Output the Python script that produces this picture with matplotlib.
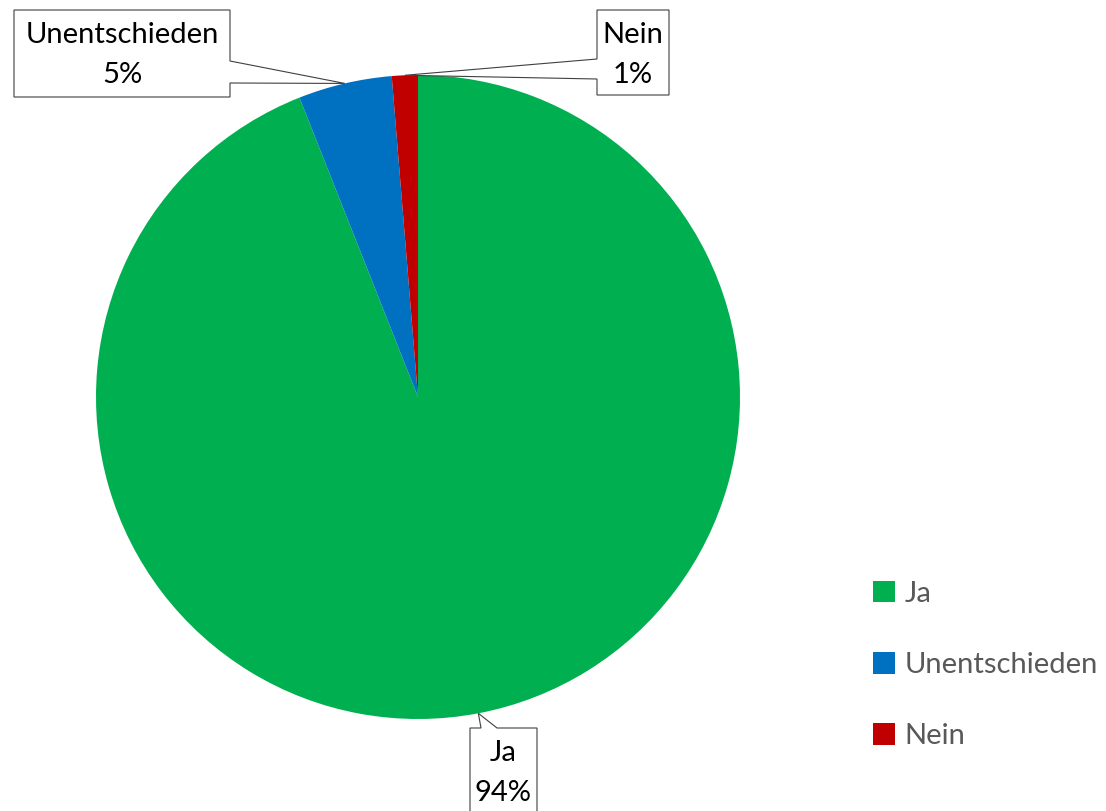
import matplotlib.pyplot as plt
import numpy as np
from matplotlib.patches import Polygon, Patch

categories = ["Ja", "Unentschieden", "Nein"]
values = [94.0, 4.7, 1.3]
colors = ["#00B050", "#0070C0", "#C00000"]

plt.rcParams['font.family'] = ['Lato', 'DejaVu Sans']
FS = 21

W, H = 1106, 811
fig = plt.figure(figsize=(W / 100, H / 100), dpi=100)
ax = fig.add_axes([0, 0, 1, 1])

cx, cy, r = 418, H - 397, 322
wedges, _ = ax.pie(values, colors=colors, startangle=90, counterclock=False,
                   center=(cx, cy), radius=r, wedgeprops=dict(linewidth=0))
ax.set_xlim(0, W)
ax.set_ylim(0, H)
ax.set_aspect('equal')
ax.axis('off')

total = sum(values)
pcts = [f"{round(v / total * 100):d}%" for v in values]

# label boxes (x0, x1, y0_top, y1_bottom in screen px) and pointer base side
boxes = {
    "Ja": dict(box=(470, 537, 728, 830), side="top", base=(481, 497)),
    "Unentschieden": dict(box=(14, 230, 10, 97), side="right", base=(61, 83)),
    "Nein": dict(box=(597, 669, 10, 95), side="left", base=(59, 79)),
}


def callout(name, tip, pct):
    b = boxes[name]
    x0, x1, t, bt = b["box"]
    y0, y1 = H - t, H - bt  # y0 top, y1 bottom in data coords
    s0, s1 = b["base"]
    if b["side"] == "top":
        pts = [(x0, y0), (s0, y0), tip, (s1, y0), (x1, y0), (x1, y1), (x0, y1)]
    elif b["side"] == "right":
        pts = [(x0, y0), (x1, y0), (x1, H - s0), tip, (x1, H - s1), (x1, y1), (x0, y1)]
    else:
        pts = [(x0, y0), (x1, y0), (x1, y1), (x0, y1), (x0, H - s1), tip, (x0, H - s0)]
    ax.add_patch(Polygon(pts, closed=True, facecolor="white", edgecolor="#404040",
                         linewidth=0.8, zorder=3))
    ty = y0 - 45
    ax.text((x0 + x1) / 2, ty, f"{name}\n{pct}", ha="center", va="center",
            fontsize=FS, color="black", linespacing=1.7, zorder=4)


for w, name, pct in zip(wedges, categories, pcts):
    mid = np.deg2rad((w.theta1 + w.theta2) / 2)
    tip = (cx + r * np.cos(mid), cy + r * np.sin(mid))
    callout(name, tip, pct)

handles = [Patch(facecolor=c, edgecolor="none") for c in colors]
leg = ax.legend(handles, categories, loc="center left", bbox_to_anchor=(861, H - 665),
                bbox_transform=ax.transData, frameon=False, fontsize=FS,
                handlelength=0.75, handleheight=0.75, handletextpad=0.35,
                labelspacing=1.55, borderaxespad=0)
for t in leg.get_texts():
    t.set_color("#595959")

fig.savefig("out.png", dpi=100)
